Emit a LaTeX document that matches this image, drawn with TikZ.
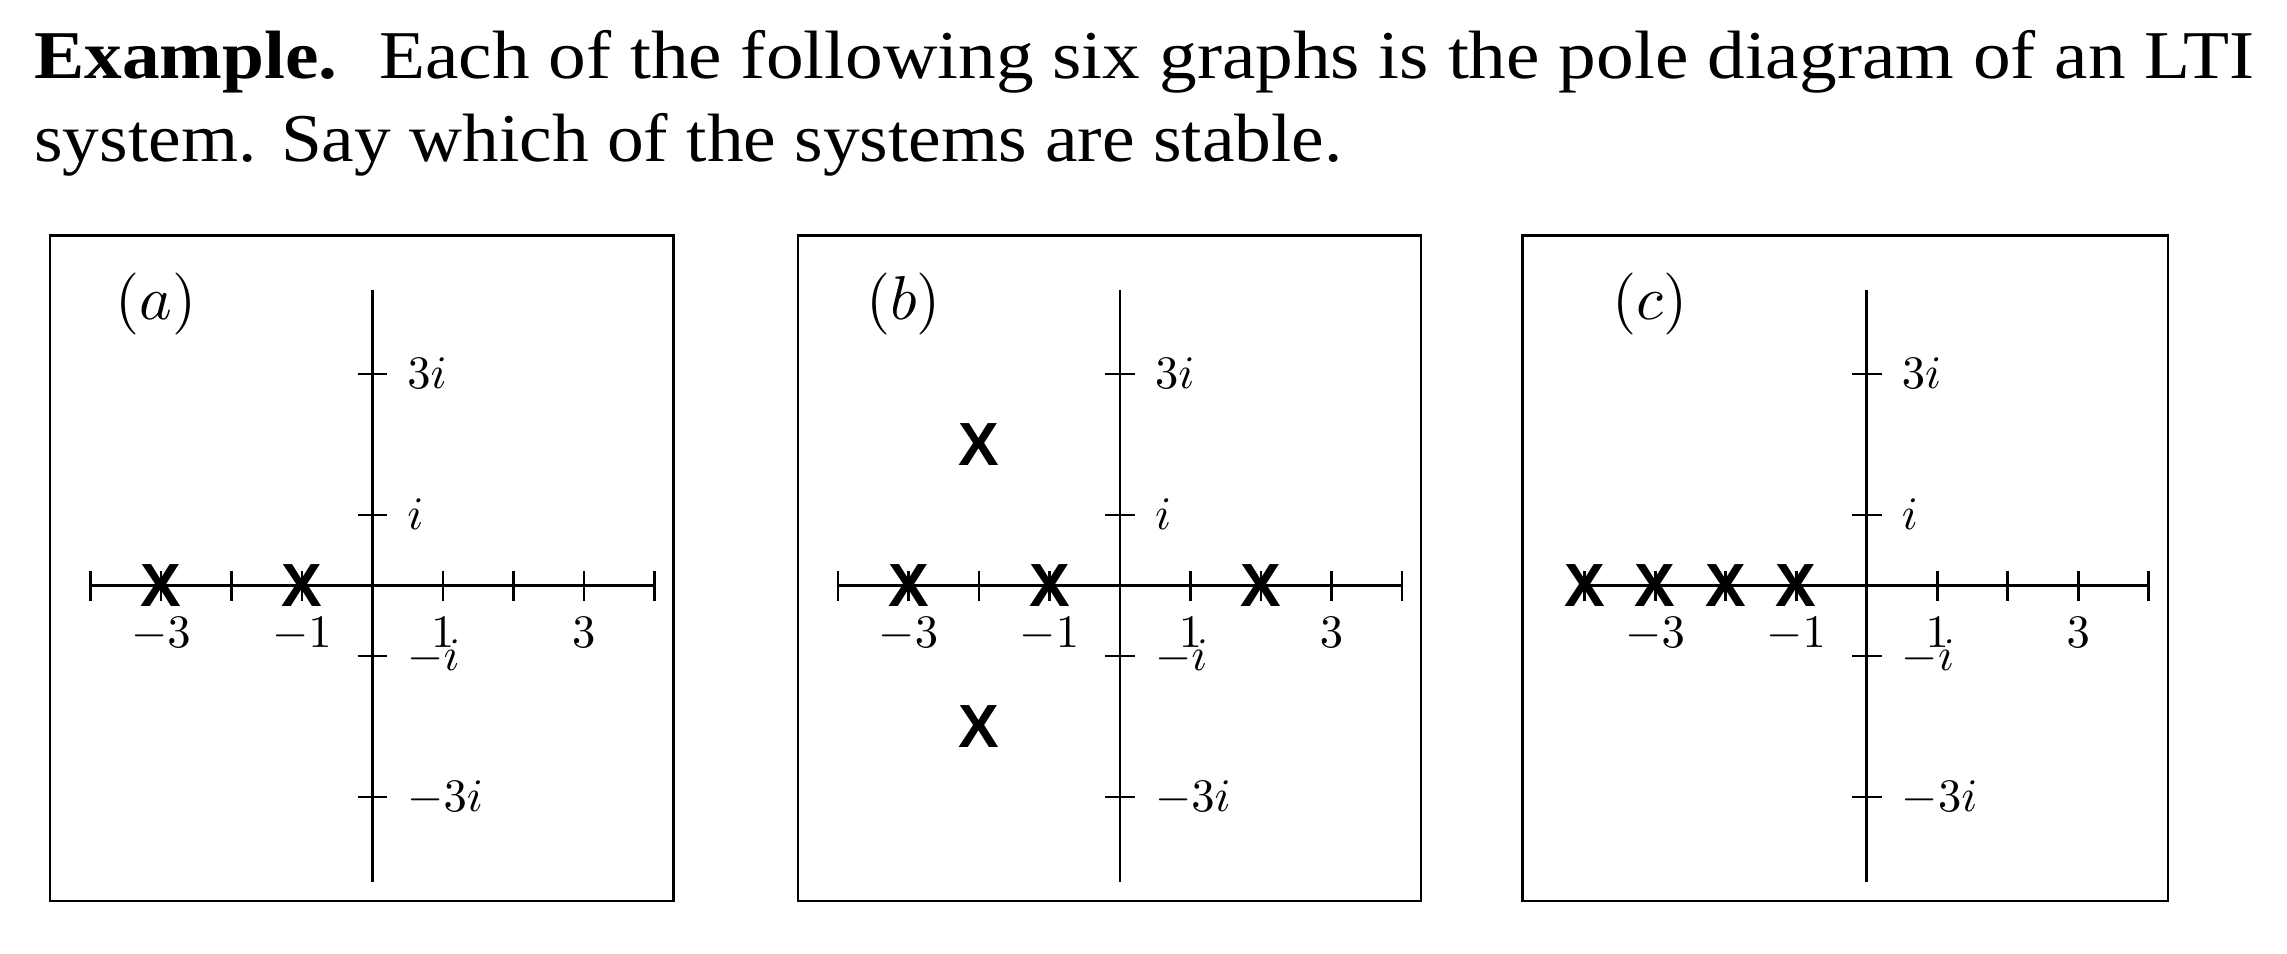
\documentclass[tikz,border=0pt]{standalone}
\usepackage{fontspec}
\usepackage{graphicx}
\newfontfamily\titlefont{Liberation Serif}
\newfontfamily\polefont{Liberation Sans}
\newcommand\biglab[1]{\scalebox{1.88}{\normalsize$#1$}}
\newcommand\panelname[1]{\scalebox{2.5}{\normalsize$(#1)$}}
\tikzset{
  frame/.style={draw, line width=1.05pt},
  axisline/.style={line width=1.05pt},
  tickline/.style={line width=1.05pt},
  hlab/.style={anchor=base, inner sep=0pt},
  vlab/.style={anchor=base west, inner sep=0pt},
  panellab/.style={inner sep=0pt},
  pole/.style={inner sep=0pt, font=\fontsize{24.6}{29}\selectfont\polefont\bfseries},
  titleline/.style={anchor=base west, inner sep=0pt, font=\fontsize{27.6}{33}\selectfont\titlefont},
}
\newcommand\drawplane[2]{%
  % #1 = name prefix, #2 = left edge of frame
  \draw[frame] (#2,-4.47) rectangle (4.27,4.97);
  \coordinate (#1-xl) at (-4,0);
  \coordinate (#1-xr) at (4,0);
  \coordinate (#1-yb) at (0,-4.2);
  \coordinate (#1-yt) at (0,4.2);
  \draw[axisline] (#1-xl) -- (#1-xr);
  \draw[axisline] (#1-yb) -- (#1-yt);
  \foreach \t in {-4,-3,-2,-1,1,2,3,4}{
    \draw[tickline] (\t,-0.21) -- (\t,0.21);
  }
  \foreach \t in {-3,-1,1,3}{
    \draw[tickline] (-0.21,\t) -- (0.21,\t);
  }
  \node[hlab] (#1-lm3) at (-3,-0.87) {\biglab{-3}};
  \node[hlab] (#1-lm1) at (-1,-0.87) {\biglab{-1}};
  \node[hlab] (#1-l1) at (1,-0.87) {\biglab{1}};
  \node[hlab] (#1-l3) at (3,-0.87) {\biglab{3}};
  \node[vlab] (#1-i3) at (0.49,2.8) {\biglab{3i}};
  \node[vlab] (#1-i1) at (0.49,0.8) {\biglab{i}};
  \node[vlab] (#1-im1) at (0.49,-1.2) {\biglab{-i}};
  \node[vlab] (#1-im3) at (0.49,-3.2) {\biglab{-3i}};
  \node[panellab] (#1-name) at (-3.07,4.0) {\panelname{#1}};
}
\begin{document}
\begin{tikzpicture}
\useasboundingbox (-5.281,-5.224) rectangle (27.159,8.308);

\node[titleline] (title1) at (-4.80,7.20) {\resizebox{896pt}{\height}{\textbf{Example.}\hspace{0.55em}Each of the following six graphs is the pole diagram of an LTI}};
\node[titleline] (title2) at (-4.80,6.02) {\resizebox{528pt}{\height}{system. Say which of the systems are stable.}};

\begin{scope}
  \drawplane{a}{-4.57}
  \node[pole] (a-p1) at (-3,0) {X};
  \node[pole] (a-p2) at (-1,0) {X};
\end{scope}

\begin{scope}[shift={(10.606,0)}]
  \drawplane{b}{-4.57}
  \node[pole] (b-p1) at (-3,0) {X};
  \node[pole] (b-p2) at (-1,0) {X};
  \node[pole] (b-p3) at (2,0) {X};
  \node[pole] (b-p4) at (-2,2) {X};
  \node[pole] (b-p5) at (-2,-2) {X};
\end{scope}

\begin{scope}[shift={(21.198,0)}]
  \drawplane{c}{-4.88}
  \node[pole] (c-p1) at (-4,0) {X};
  \node[pole] (c-p2) at (-3,0) {X};
  \node[pole] (c-p3) at (-2,0) {X};
  \node[pole] (c-p4) at (-1,0) {X};
\end{scope}
\end{tikzpicture}
\end{document}
